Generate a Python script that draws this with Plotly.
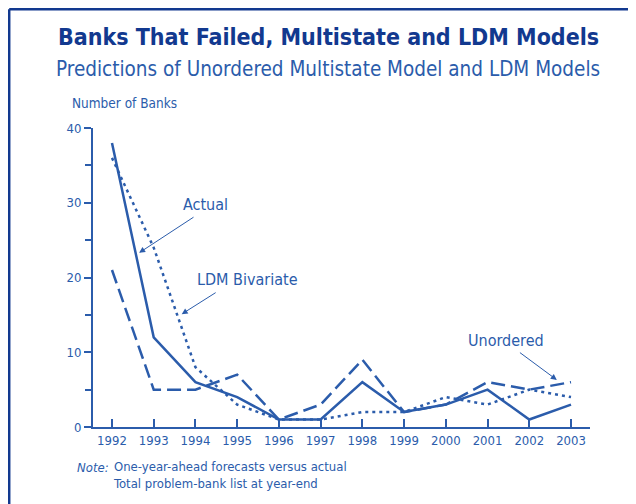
import plotly.graph_objects as go

years = list(range(1992, 2004))
actual = [38, 12, 6, 4, 1, 1, 6, 2, 3, 5, 1, 3]
unordered = [21, 5, 5, 7, 1, 3, 9, 2, 3, 6, 5, 6]
ldm_bivariate = [36, 24, 8, 3, 1, 1, 2, 2, 4, 3, 5, 4]

BLUE = '#2b5cab'
NAVY = '#12398f'
FONT = 'Liberation Sans Narrow, DejaVu Sans Condensed, Arial Narrow, sans-serif'

fig = go.Figure()

fig.add_trace(go.Scatter(x=years, y=actual, mode='lines',
                         line=dict(color=BLUE, width=2.5), name='Actual', hoverinfo='skip'))
fig.add_trace(go.Scatter(x=years, y=unordered, mode='lines',
                         line=dict(color=BLUE, width=2.5, dash='14px,6px'), name='Unordered', hoverinfo='skip'))
fig.add_trace(go.Scatter(x=years, y=ldm_bivariate, mode='lines',
                         line=dict(color=BLUE, width=2.5, dash='3px,4px'), name='LDM Bivariate', hoverinfo='skip'))

# подписи серий со стрелками
labels = [
    ('Actual', 1994.24, 29.7, 1992.65, 23.3, 1993.99, 28.2),
    ('LDM Bivariate', 1995.25, 19.7, 1993.67, 15.1, 1994.52, 18.1),
    ('Unordered', 2001.45, 11.6, 2002.66, 6.3, 2001.74, 10.1),
]
for text, tx, ty, hx, hy, ax, ay in labels:
    fig.add_annotation(x=tx, y=ty, text=text, showarrow=False, yanchor='middle',
                       font=dict(family=FONT, size=16, color=BLUE))
    fig.add_annotation(x=hx, y=hy, ax=ax, ay=ay, xref='x', yref='y', axref='x', ayref='y',
                       text='', showarrow=True, arrowhead=2, arrowsize=1.2, arrowwidth=1,
                       arrowcolor=BLUE)

# заголовки и подписи в координатах paper
fig.add_annotation(x=0.473, y=1.304, xref='paper', yref='paper', showarrow=False,
                   xanchor='center', yanchor='middle',
                   text='<b>Banks That Failed, Multistate and LDM Models</b>',
                   font=dict(family=FONT, size=23, color=NAVY))
fig.add_annotation(x=0.473, y=1.197, xref='paper', yref='paper', showarrow=False,
                   xanchor='center', yanchor='middle',
                   text='Predictions of Unordered Multistate Model and LDM Models',
                   font=dict(family=FONT, size=20.5, color=BLUE))
fig.add_annotation(x=-0.0463, y=1.082, xref='paper', yref='paper', showarrow=False,
                   xanchor='left', yanchor='middle', text='Number of Banks',
                   font=dict(family=FONT, size=13.5, color=BLUE))
fig.add_annotation(x=-0.0362, y=-0.1338, xref='paper', yref='paper', showarrow=False,
                   xanchor='left', yanchor='middle', text='<i>Note:</i>',
                   font=dict(family=FONT, size=13, color=BLUE))
fig.add_annotation(x=0.0362, y=-0.162, xref='paper', yref='paper', showarrow=False,
                   xanchor='left', yanchor='middle', align='left',
                   text='One-year-ahead forecasts versus actual<br>Total problem-bank list at year-end',
                   font=dict(family=FONT, size=13, color=BLUE))

# рамка: слева и сверху
fig.add_shape(type='line', xref='paper', yref='paper', x0=-0.1686, x1=-0.1686, y0=1.397, y1=-0.3,
              line=dict(color=NAVY, width=2.5))
fig.add_shape(type='line', xref='paper', yref='paper', x0=-0.1686, x1=1.1, y0=1.397, y1=1.397,
              line=dict(color=NAVY, width=2.5))

# страница даёт отступ 8px, поэтому фигура меньше окна
fig.update_layout(
    width=628, height=496,
    margin=dict(l=85, r=46, t=120, b=77),
    paper_bgcolor='white', plot_bgcolor='white',
    showlegend=False,
    font=dict(family=FONT, size=13, color=BLUE),
    xaxis=dict(range=[1991.545, 2003.455], tickvals=years, ticks='inside', ticklen=8,
               tickcolor=BLUE, tickwidth=1.5, showline=True, linecolor=BLUE, linewidth=2,
               showgrid=False, zeroline=False, tickfont=dict(family=FONT, size=13, color=BLUE)),
    yaxis=dict(range=[0, 40], tickvals=[0, 10, 20, 30, 40], ticks='outside', ticklen=7,
               tickcolor=BLUE, tickwidth=1.5, showline=True, linecolor=BLUE, linewidth=2,
               showgrid=False, zeroline=False, tickfont=dict(family=FONT, size=13, color=BLUE),
               minor=dict(tickvals=[5, 15, 25, 35], ticks='outside', ticklen=6,
                          tickcolor=BLUE, tickwidth=1.5)),
)

fig.write_html("out.html")
